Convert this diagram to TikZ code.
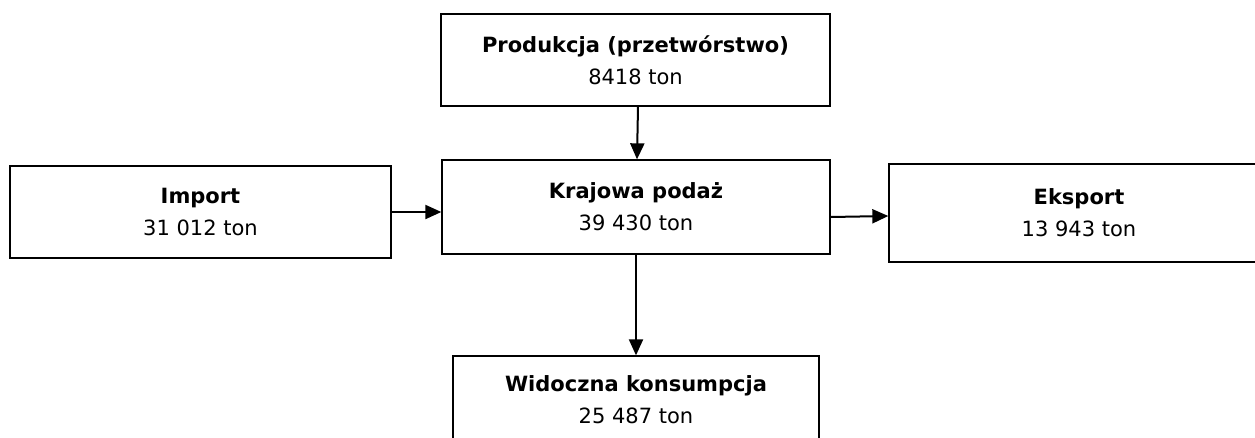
\documentclass[tikz,border=0pt]{standalone}
\usepackage{fontspec}
\setmainfont{DejaVu Sans}
\usetikzlibrary{arrows.meta}
\tikzset{
    box/.style={draw, line width=1.3pt, rectangle, align=center,
        inner sep=0pt, font=\fontsize{21}{32}\selectfont},
    flow/.style={-{Triangle[length=16pt, width=14pt]}, line width=2pt},
}
\begin{document}
\begin{tikzpicture}[x=1pt, y=-1pt]
    \useasboundingbox (0,0) rectangle (1255,437);
    \clip (0,0) rectangle (1255,437);
    \node[box, minimum width=389pt, minimum height=92pt] (prod)
        at (635.5, 60) {\textbf{Produkcja (przetwórstwo)}\\8418 ton};
    \node[box, minimum width=381pt, minimum height=92pt] (imp)
        at (200.5, 212) {\textbf{Import}\\31 012 ton};
    \node[box, minimum width=388pt, minimum height=94pt] (kraj)
        at (636, 207) {\textbf{Krajowa podaż}\\39 430 ton};
    \node[box, minimum width=380pt, minimum height=98pt] (eks)
        at (1079, 213) {\textbf{Eksport}\\13 943 ton};
    \node[box, minimum width=366pt, minimum height=88pt] (kons)
        at (636, 400) {\textbf{Widoczna konsumpcja}\\25 487 ton};
    \draw[flow] ([xshift=2.5pt]prod.south) -- ([xshift=1pt]kraj.north);
    \draw[flow] (imp.east) -- (imp.east -| kraj.west);
    \draw[flow] ([yshift=-10pt]kraj.east) -- ([yshift=-3pt]eks.west);
    \draw[flow] (kraj.south) -- (kons.north);
\end{tikzpicture}
\end{document}
